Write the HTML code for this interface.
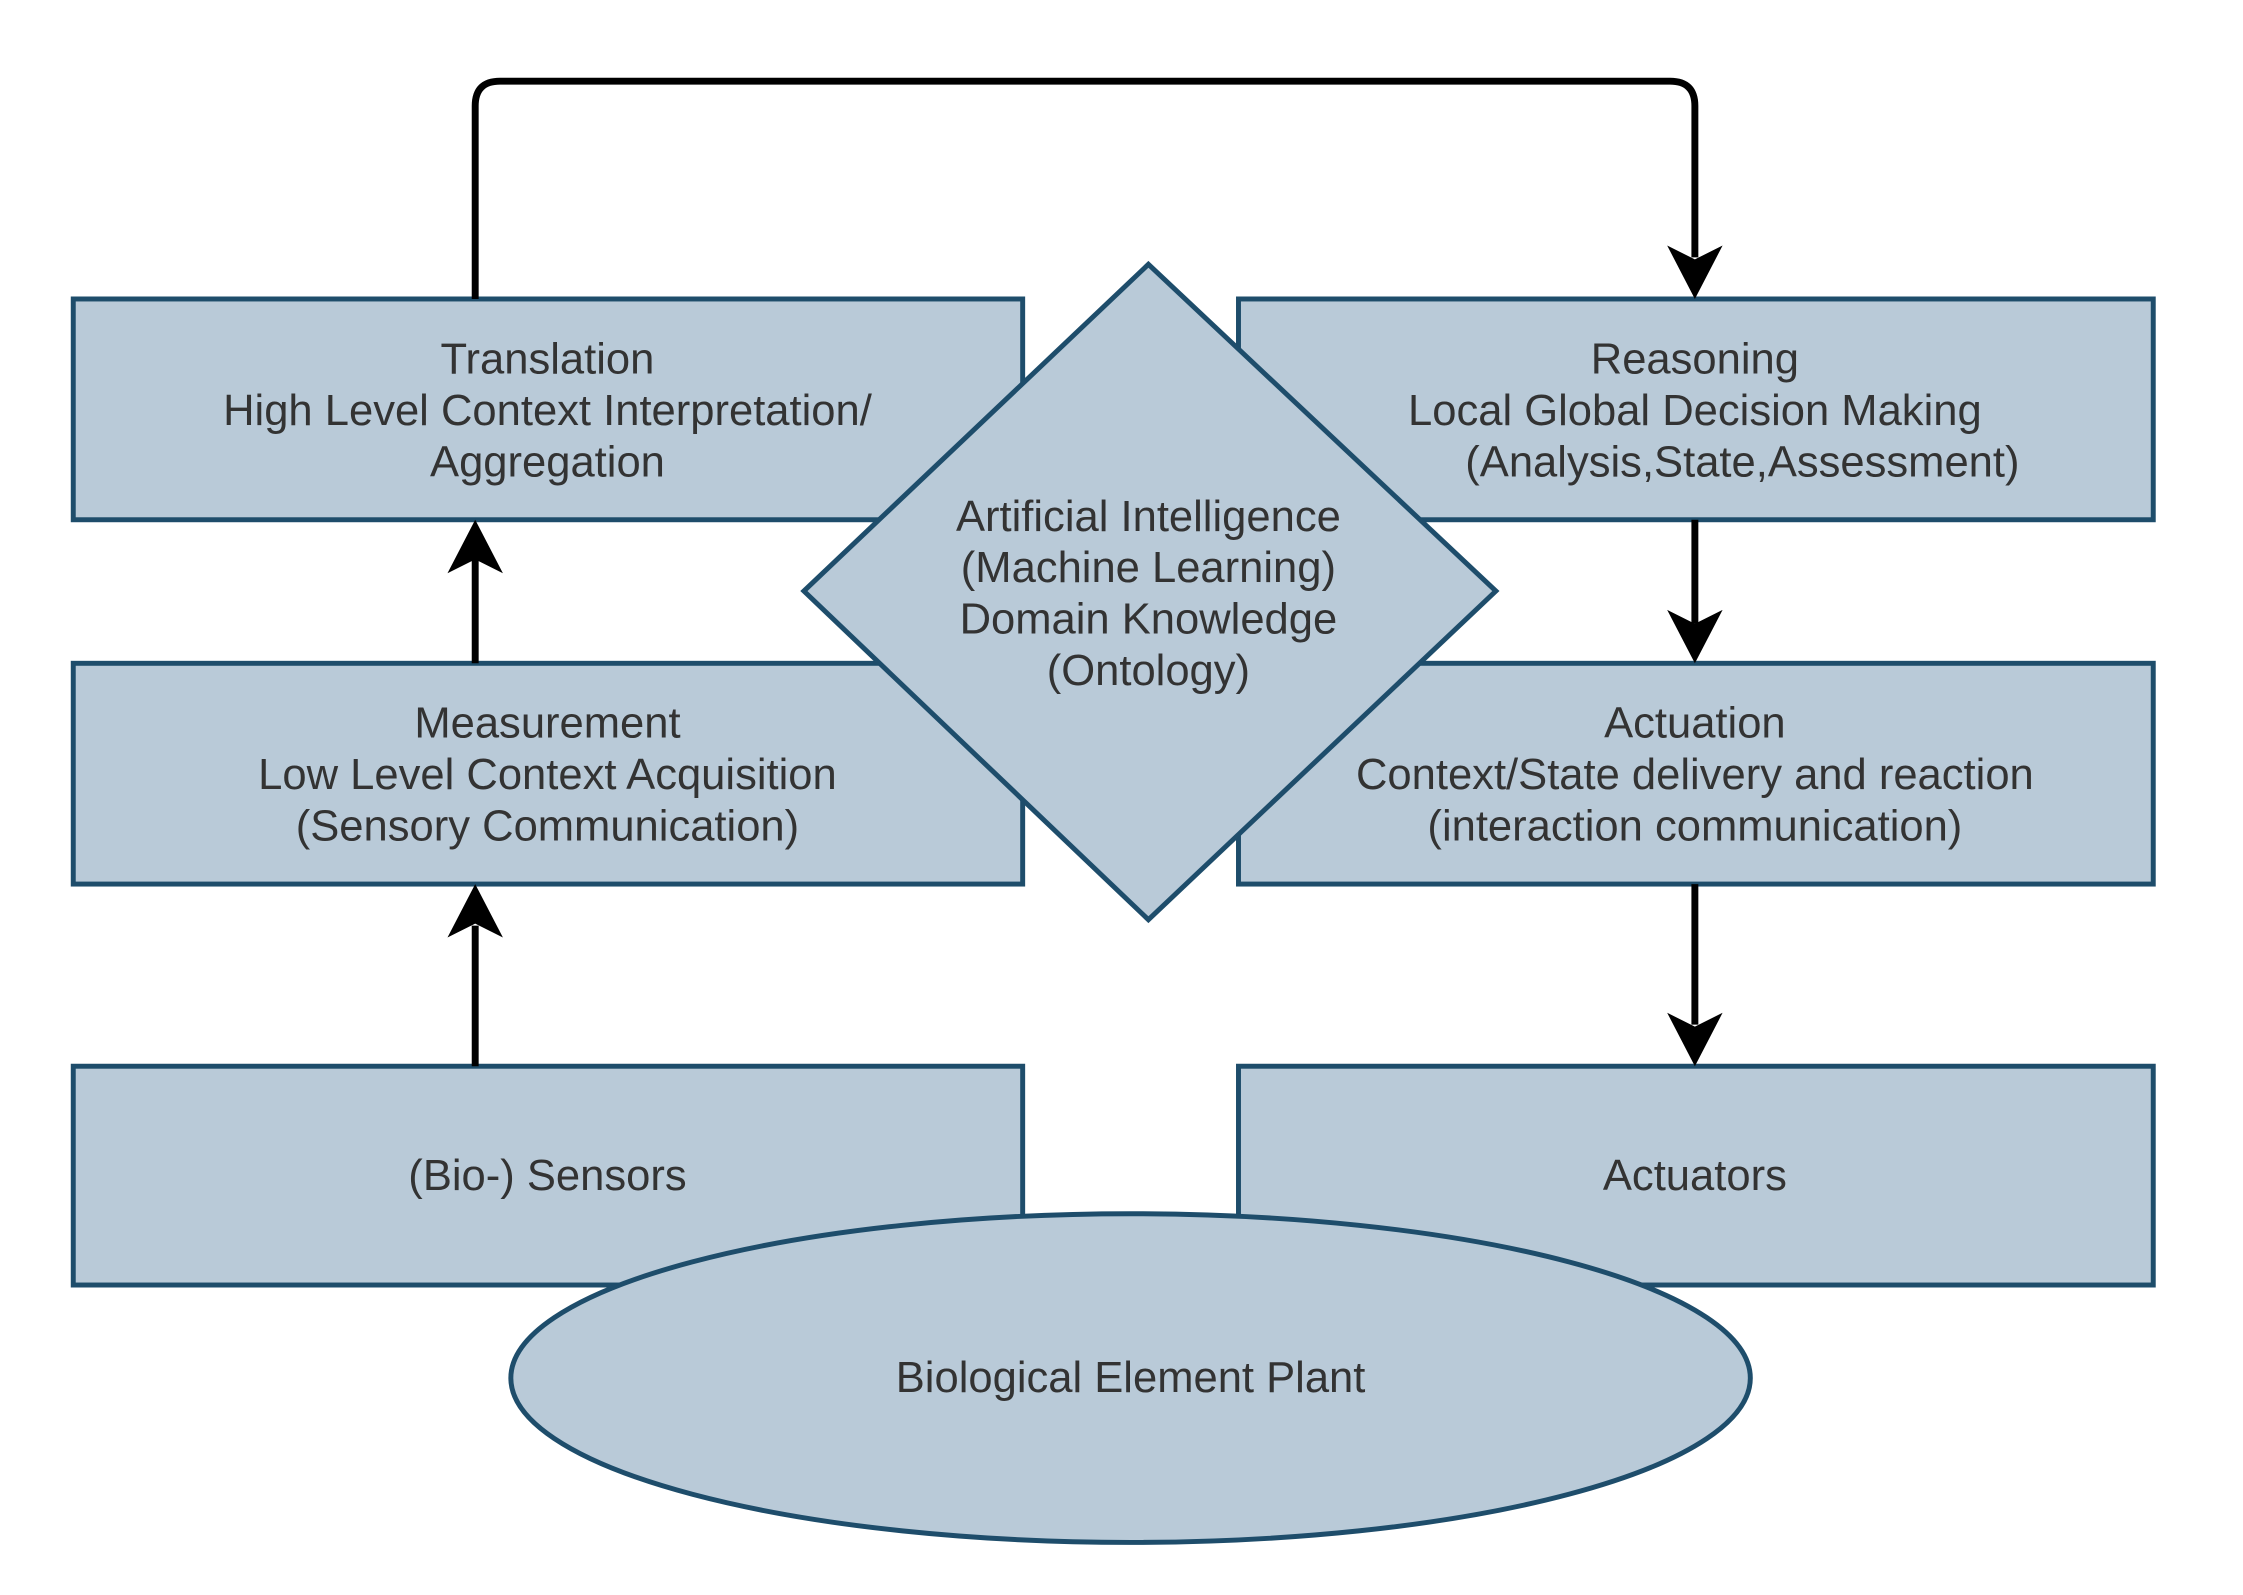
<!DOCTYPE html>
<html><head><meta charset="utf-8"><style>
html,body{margin:0;padding:0;background:#fff;}
text{font-family:"Liberation Sans",Arial,sans-serif;font-size:44px;fill:#333;text-anchor:middle;dominant-baseline:central;}
</style></head><body>
<svg width="2243" height="1590" viewBox="0 0 2243 1590" xmlns="http://www.w3.org/2000/svg">
<g transform="scale(0.99)">
<g fill="#b9cad8" stroke="#1e4d6b" stroke-width="5">
<rect x="74" y="302" width="959" height="223"/>
<rect x="74" y="670" width="959" height="223"/>
<rect x="74" y="1077" width="959" height="221"/>
<rect x="1251" y="302" width="924" height="223"/>
<rect x="1251" y="670" width="924" height="223"/>
<rect x="1251" y="1077" width="924" height="221"/>
<polygon points="1160,267 1511,597 1160,929 812,597"/>
<ellipse cx="1142" cy="1392" rx="626" ry="166"/>
</g>
<g stroke="#000" stroke-width="7" fill="none">
<path d="M480 302 V107 Q480 82 505 82 H1687 Q1712 82 1712 107 V260"/>
<path d="M480 670 V560"/>
<path d="M480 1077 V935"/>
<path d="M1712 525 V630"/>
<path d="M1712 893 V1035"/>
</g>
<g fill="#000">
<polygon points="1712,302 1684,248 1712,262 1740,248"/>
<polygon points="480,525 452,579 480,565 508,579"/>
<polygon points="480,893 452,947 480,933 508,947"/>
<polygon points="1712,670 1684,616 1712,630 1740,616"/>
<polygon points="1712,1077 1684,1023 1712,1037 1740,1023"/>
</g>
<text x="553" y="363">Translation</text>
<text x="553" y="415">High Level Context Interpretation/</text>
<text x="553" y="467">Aggregation</text>
<text x="1712" y="363">Reasoning</text>
<text x="1712" y="415">Local Global Decision Making</text>
<text x="1760" y="467">(Analysis,State,Assessment)</text>
<text x="553" y="731">Measurement</text>
<text x="553" y="783">Low Level Context Acquisition</text>
<text x="553" y="835">(Sensory Communication)</text>
<text x="1712" y="731">Actuation</text>
<text x="1712" y="783">Context/State delivery and reaction</text>
<text x="1712" y="835">(interaction communication)</text>
<text x="1160" y="522">Artificial Intelligence</text>
<text x="1160" y="574">(Machine Learning)</text>
<text x="1160" y="626">Domain Knowledge</text>
<text x="1160" y="678">(Ontology)</text>
<text x="553" y="1188">(Bio-) Sensors</text>
<text x="1712" y="1188">Actuators</text>
<text x="1142" y="1392">Biological Element Plant</text>
</g>
</svg>
</body></html>
